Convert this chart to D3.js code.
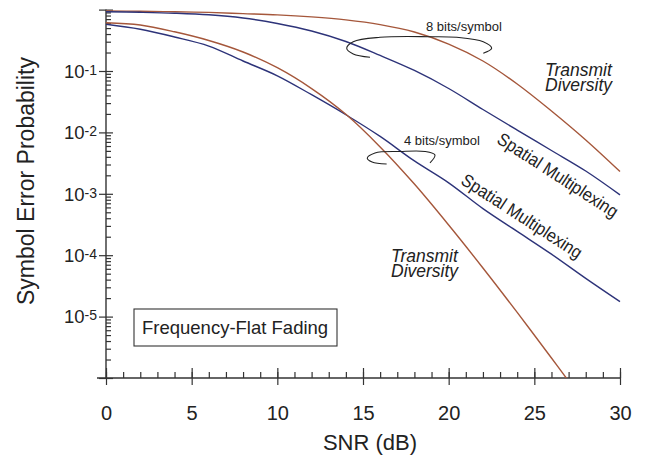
<!DOCTYPE html>
<html>
<head>
<meta charset="utf-8">
<script src="https://cdn.jsdelivr.net/npm/d3@7"></script>
<style>
  body { margin: 0; background: #fff; }
  text { font-family: "Liberation Sans", Arial, Helvetica, sans-serif; fill: #222; }
  .axis path { display: none; }
  .axis line { stroke: #333; stroke-width: 1.2; }
  .curve { fill: none; stroke-width: 1.4; }
  .loop { fill: none; stroke: #222; stroke-width: 1.1; }
</style>
</head>
<body>
<div id="chart"></div>
<script>
// SNR (dB) sample points
const snr = [0, 2, 4, 6, 8, 10, 12, 14, 16, 18, 20, 22, 24, 26, 28, 30];
const snrTd4 = [0, 2, 4, 6, 8, 10, 12, 14, 16, 18, 20, 22, 24, 26, 27];

// symbol error probability, 8 bits/symbol
const td8 = [0.95, 0.94, 0.92, 0.90, 0.86, 0.82, 0.76, 0.68, 0.57, 0.432, 0.275, 0.1455, 0.0614, 0.0223, 0.00752, 0.0023];
const sm8 = [0.924, 0.904, 0.874, 0.823, 0.730, 0.594, 0.448, 0.302, 0.179, 0.102, 0.0519, 0.0236, 0.0109, 0.00507, 0.00235, 0.00096];

// symbol error probability, 4 bits/symbol
const sm4 = [0.576, 0.478, 0.358, 0.255, 0.1455, 0.0835, 0.0411, 0.0194, 0.0086, 0.00343, 0.00151, 0.000574, 0.000244, 0.000104, 0.0000419, 0.0000175];
const td4 = [0.612, 0.561, 0.435, 0.314, 0.204, 0.113, 0.0517, 0.0197, 0.0058, 0.00144, 0.00031, 0.0000619, 0.0000117, 0.00000212, 0.00000089];

// axis ticks
const xTicks = [0, 5, 10, 15, 20, 25, 30];
const xMinor = d3.range(0, 31, 1);
const yLabelExp = [-1, -2, -3, -4, -5];
const yMajor = [1, 1e-1, 1e-2, 1e-3, 1e-4, 1e-5, 1e-6];

// hand-drawn brackets grouping the curves, in data units [snr, p]
const loop8 = [[15.41, 0.167], [14.43, 0.189], [14.05, 0.234], [14.43, 0.300], [15.99, 0.354],
               [18.91, 0.362], [20.47, 0.354], [22.02, 0.300], [22.51, 0.234], [22.02, 0.194]];
const loop4 = [[16.38, 0.00306], [15.53, 0.00330], [15.25, 0.00379], [15.7, 0.00462], [17.16, 0.00489],
               [18.62, 0.00489], [19.2, 0.00428], [18.91, 0.00318]];

const brown = '#a5573b';
const navy = '#2d3379';

const W = 651, H = 458;
const svg = d3.select('#chart').append('svg')
    .attr('width', W).attr('height', H);

const x = d3.scaleLinear().domain([0, 30]).range([106, 620]);
const y = d3.scaleLog().domain([1e-6, 1]).range([378, 9.6]);

svg.append('defs').append('clipPath').attr('id', 'plot')
    .append('rect')
    .attr('x', x(0)).attr('y', y(1) - 4)
    .attr('width', x(30) - x(0) + 2).attr('height', y(1e-6) - y(1) + 4);

// AXIS LINES
svg.append('line')
    .attr('x1', x(0) - 9).attr('x2', x(30))
    .attr('y1', y(1e-6)).attr('y2', y(1e-6))
    .attr('stroke', '#333').attr('stroke-width', 1.4);
svg.append('line')
    .attr('x1', x(0)).attr('x2', x(0))
    .attr('y1', y(1)).attr('y2', y(1e-6))
    .attr('stroke', '#333').attr('stroke-width', 1.4);

// X AXIS minor ticks (inside)
svg.append('g')
    .attr('class', 'axis')
    .attr('transform', 'translate(0,' + y(1e-6) + ')')
    .call(d3.axisBottom(x).tickValues(xMinor).tickFormat('').tickSize(-6));

// X AXIS major ticks (crossing) + labels
const gx = svg.append('g')
    .attr('class', 'axis')
    .attr('transform', 'translate(0,' + y(1e-6) + ')')
    .call(d3.axisBottom(x).tickValues(xTicks).tickFormat(d3.format('d')));
gx.selectAll('line').attr('y1', -10).attr('y2', 7);
gx.selectAll('text')
    .attr('y', 42).attr('dy', 0)
    .style('font-size', '20px').style('fill', '#222')
    .style('font-family', '"Liberation Sans", Arial, sans-serif');

// Y AXIS minor ticks (inside)
const yMinor = [];
d3.range(-6, 0).forEach(function(e) {
    d3.range(2, 10).forEach(function(m) { yMinor.push(m * Math.pow(10, e)); });
});
svg.append('g')
    .attr('class', 'axis')
    .attr('transform', 'translate(' + x(0) + ',0)')
    .call(d3.axisLeft(y).tickValues(yMinor).tickFormat('').tickSize(-5));

// Y AXIS major ticks (crossing)
const gy = svg.append('g')
    .attr('class', 'axis')
    .attr('transform', 'translate(' + x(0) + ',0)')
    .call(d3.axisLeft(y).tickValues(yMajor).tickFormat(''));
gy.selectAll('line').attr('x1', 7).attr('x2', -7);

// Y labels 10^n
const ylab = svg.append('g').selectAll('text')
    .data(yLabelExp).enter()
    .append('text')
    .attr('text-anchor', 'end')
    .attr('x', x(0) - 9)
    .attr('y', function(d) { return y(Math.pow(10, d)) + 6.7; })
    .style('font-size', '18.5px');
ylab.append('tspan').text('10');
ylab.append('tspan')
    .attr('dy', -3)
    .style('font-size', '14px')
    .text(function(d) { return String(d); });

// AXIS TITLES
svg.append('text')
    .attr('text-anchor', 'middle')
    .attr('transform', 'translate(34,' + 181 + ') rotate(-90)')
    .style('font-size', '23px')
    .text('Symbol Error Probability');

svg.append('text')
    .attr('text-anchor', 'middle')
    .attr('x', 370).attr('y', 450)
    .style('font-size', '22px')
    .text('SNR (dB)');

// CURVES
const line = d3.line()
    .x(function(d) { return x(d[0]); })
    .y(function(d) { return y(d[1]); })
    .curve(d3.curveCatmullRom.alpha(0.5));

const series = [
    {xs: snr, ys: td8, color: brown},
    {xs: snr, ys: sm8, color: navy},
    {xs: snr, ys: sm4, color: navy},
    {xs: snrTd4, ys: td4, color: brown}
];

svg.append('g')
    .attr('clip-path', 'url(#plot)')
    .selectAll('path')
    .data(series).enter()
    .append('path')
    .attr('class', 'curve')
    .attr('stroke', function(d) { return d.color; })
    .attr('d', function(d) {
        return line(d.xs.map(function(v, i) { return [v, d.ys[i]]; }));
    });

// BRACKETS
const loopLine = d3.line()
    .x(function(d) { return x(d[0]); })
    .y(function(d) { return y(d[1]); })
    .curve(d3.curveCatmullRom);

svg.append('path').attr('class', 'loop').attr('d', loopLine(loop8));
svg.append('path').attr('class', 'loop').attr('d', loopLine(loop4));

svg.append('text')
    .attr('x', 426).attr('y', 30.5)
    .style('font-size', '13px')
    .text('8 bits/symbol');

svg.append('text')
    .attr('x', 404).attr('y', 145)
    .style('font-size', '13px')
    .text('4 bits/symbol');

// CURVE LABELS
function twoLines(px, py, l1, l2, lh) {
    const t = svg.append('text')
        .attr('x', px).attr('y', py)
        .style('font-size', '17.5px')
        .style('font-style', 'italic');
    t.append('tspan').attr('x', px).text(l1);
    t.append('tspan').attr('x', px).attr('dy', lh).text(l2);
}
twoLines(545, 75.5, 'Transmit', 'Diversity', 15);
twoLines(391, 262, 'Transmit', 'Diversity', 14.5);

function slanted(cx, cy, angle) {
    svg.append('text')
        .attr('text-anchor', 'middle')
        .attr('transform', 'translate(' + cx + ',' + cy + ') rotate(' + angle + ')')
        .attr('dy', '0.35em')
        .attr('textLength', 140)
        .attr('lengthAdjust', 'spacingAndGlyphs')
        .style('font-size', '18px')
        .text('Spatial Multiplexing');
}
slanted(558, 175, 33);
slanted(522, 216, 33);

// FREQUENCY-FLAT FADING box
svg.append('rect')
    .attr('x', 134).attr('y', 309)
    .attr('width', 203).attr('height', 37)
    .attr('fill', 'none').attr('stroke', '#333').attr('stroke-width', 1.1);
svg.append('text')
    .attr('x', 142).attr('y', 333.5)
    .style('font-size', '18.5px')
    .text('Frequency-Flat Fading');
</script>
</body>
</html>
